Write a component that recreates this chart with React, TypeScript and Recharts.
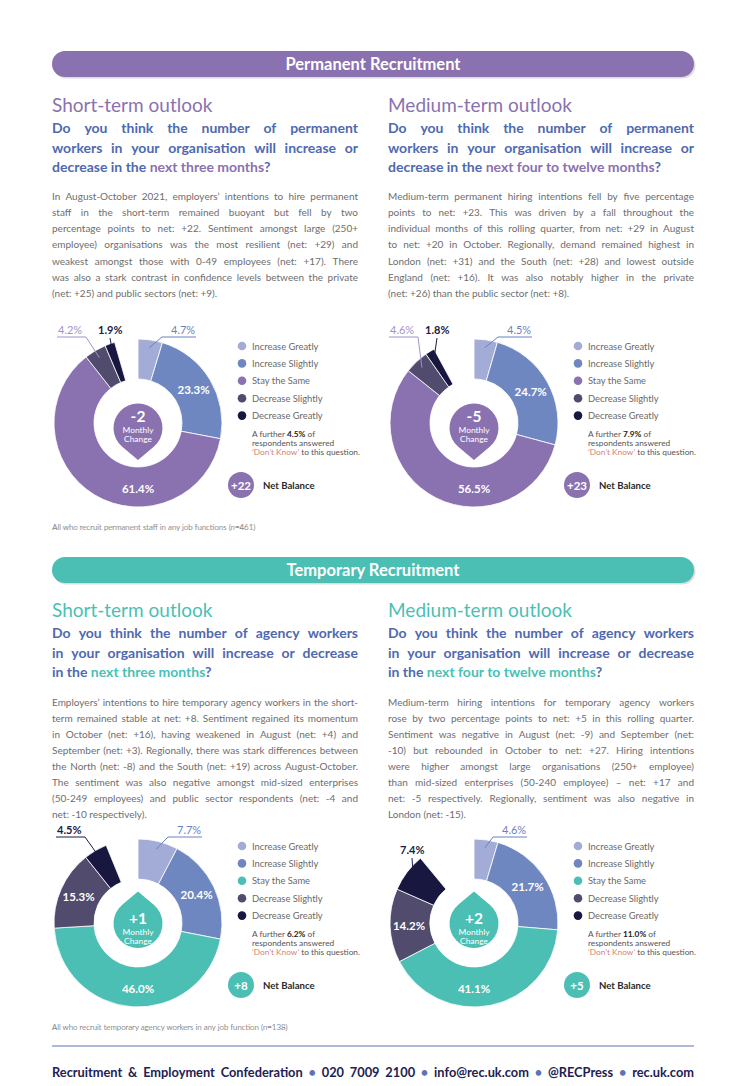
import React from "react";
import { PieChart, Pie, Cell } from "recharts";

// survey answer categories, in the order drawn clockwise from 12 o'clock
const categories = [
  "Increase Greatly",
  "Increase Slightly",
  "Stay the Same",
  "Decrease Slightly",
  "Decrease Greatly",
];

const permShort = [4.7, 23.3, 61.4, 4.2, 1.9];
const permMedium = [4.5, 24.7, 56.5, 4.6, 1.8];
const tempShort = [7.7, 20.4, 46.0, 15.3, 4.5];
const tempMedium = [4.6, 21.7, 41.1, 14.2, 7.4];

const dontKnow = [4.5, 7.9, 6.2, 11.0];
const monthlyChange = [-2, -5, 1, 2];
const netBalance = [22, 23, 8, 5];

const sampleNotes = [
  "All who recruit permanent staff in any job functions (n=461)",
  "All who recruit permanent staff in any job functions (n=461)",
  "All who recruit temporary agency workers in any job function (n=138)",
  "All who recruit temporary agency workers in any job function (n=138)",
];

const permShortBody = [
  "In August-October 2021, employers’ intentions to hire permanent",
  "staff in the short-term remained buoyant but fell by two",
  "percentage points to net: +22. Sentiment amongst large (250+",
  "employee) organisations was the most resilient (net: +29) and",
  "weakest amongst those with 0-49 employees (net: +17). There",
  "was also a stark contrast in confidence levels between the private",
  "(net: +25) and public sectors (net: +9).",
];
const permMediumBody = [
  "Medium-term permanent hiring intentions fell by five percentage",
  "points to net: +23. This was driven by a fall throughout the",
  "individual months of this rolling quarter, from net: +29 in August",
  "to net: +20 in October. Regionally, demand remained highest in",
  "London (net: +31) and the South (net: +28) and lowest outside",
  "England (net: +16). It was also notably higher in the private",
  "(net: +26) than the public sector (net: +8).",
];
const tempShortBody = [
  "Employers’ intentions to hire temporary agency workers in the short-",
  "term remained stable at net: +8. Sentiment regained its momentum",
  "in October (net: +16), having weakened in August (net: +4) and",
  "September (net: +3). Regionally, there was stark differences between",
  "the North (net: -8) and the South (net: +19) across August-October.",
  "The sentiment was also negative amongst mid-sized enterprises",
  "(50-249 employees) and public sector respondents (net: -4 and",
  "net: -10 respectively).",
];
const tempMediumBody = [
  "Medium-term hiring intentions for temporary agency workers",
  "rose by two percentage points to net: +5 in this rolling quarter.",
  "Sentiment was negative in August (net: -9) and September (net:",
  "-10) but rebounded in October to net: +27. Hiring intentions",
  "were higher amongst large organisations (250+ employee)",
  "than mid-sized enterprises (50-240 employee) – net: +17 and",
  "net: -5 respectively. Regionally, sentiment was also negative in",
  "London (net: -15).",
];

const PURPLE = "#8a71b0";
const TEAL = "#4bbfb4";
const QBLUE = "#4f69b0";
const BODY = "#6e6e6e";
const NAVY = "#1e2152";
const sliceColors = ["#a3acd6", "#6f87c1", PURPLE, "#514b6e", "#17173f"];
const calloutColors = ["#6a82c0", "#6a82c0", "#ffffff", "#a193c9", "#1b1b48"];

const RAD = Math.PI / 180;
const polar = (cx: number, cy: number, r: number, a: number) => [
  cx + r * Math.cos(-a * RAD),
  cy + r * Math.sin(-a * RAD),
];

let ctx: CanvasRenderingContext2D | null = null;
function textWidth(s: string, font: string) {
  if (!ctx) ctx = document.createElement("canvas").getContext("2d");
  if (!ctx) return s.length * 5;
  ctx.font = font;
  return ctx.measureText(s).width;
}

type Seg = { t: string; c?: string };

function Line({ x, y, width, segs, size, weight = 400, color, justify }: any) {
  if (!justify) {
    return (
      <text x={x} y={y} fontSize={size} fontWeight={weight} fontFamily="Lato" fill={color}>
        {segs.map((s: Seg, i: number) => (
          <tspan key={i} fill={s.c || color}>
            {s.t}
          </tspan>
        ))}
      </text>
    );
  }
  const tokens: Seg[] = [];
  segs.forEach((s: Seg) =>
    s.t.split(" ").forEach((w) => {
      if (w) tokens.push({ t: w, c: s.c });
    })
  );
  const font = `${weight} ${size}px Lato`;
  const widths = tokens.map((tk) => textWidth(tk.t, font));
  const total = widths.reduce((a, b) => a + b, 0);
  const gap = tokens.length > 1 ? (width - total) / (tokens.length - 1) : 0;
  let pos = x;
  const xs = widths.map((w) => {
    const p = pos;
    pos += w + gap;
    return p;
  });
  return (
    <text y={y} fontSize={size} fontWeight={weight} fontFamily="Lato" fill={color}>
      {tokens.map((tk, i) => (
        <tspan key={i} x={xs[i]} fill={tk.c || color}>
          {tk.t}
        </tspan>
      ))}
    </text>
  );
}

function Paragraph({ x, y0, step, lines, width }: any) {
  return (
    <g>
      {lines.map((l: string, i: number) => (
        <Line
          key={i}
          x={x}
          y={y0 + i * step}
          width={width}
          segs={[{ t: l }]}
          size={10}
          color={BODY}
          justify={i < lines.length - 1}
        />
      ))}
    </g>
  );
}

function Question({ x, y0, lines, hl }: any) {
  return (
    <g>
      {lines.map((segs: Seg[], i: number) => (
        <Line
          key={i}
          x={x}
          y={y0 + i * 19.6}
          width={306}
          segs={segs.map((s) => ({ t: s.t, c: s.c ? hl : undefined }))}
          size={14}
          weight={700}
          color={QBLUE}
          justify={i < 2}
        />
      ))}
    </g>
  );
}

function dropPath(cx: number, cy: number, dir: number) {
  const r = 24.5;
  const d = 32;
  const c = cy + (dir > 0 ? 5 : 0.5);
  const th = Math.acos(r / d);
  const tipY = c + dir * d;
  const px = r * Math.sin(th);
  const py = c + dir * r * Math.cos(th);
  const sweep = dir > 0 ? 0 : 1;
  return `M ${cx} ${tipY} L ${cx + px} ${py} A ${r} ${r} 0 1 ${sweep} ${cx - px} ${py} Z`;
}

const BOX = 110;

function Donut({ cx, cy, values, dk, change, net, stay, note, callouts }: any) {
  const colors = sliceColors.map((c, i) => (i === 2 ? stay : c));
  const data = [
    ...categories.map((name, i) => ({ name, value: values[i] })),
    { name: "Don’t Know", value: dk },
  ];

  const renderLabel = (p: any) => {
    const { cx: x0, cy: y0, midAngle, index, value } = p;
    if (index >= categories.length) return null;
    if (value >= 10) {
      const ang = index === 2 ? -90 : midAngle;
      const [x, y] = polar(x0, y0, 65, ang);
      return (
        <text
          x={x}
          y={y}
          textAnchor="middle"
          dominantBaseline="central"
          fill="#fff"
          fontWeight={700}
          fontSize={11.5}
          fontFamily="Lato"
        >
          {value.toFixed(1)}%
        </text>
      );
    }
    const c = callouts[index];
    if (!c) return null;
    const [ax, ay] = polar(x0, y0, 76, midAngle);
    const tx = x0 + c.x;
    const ty = y0 + c.y;
    const tw = 24;
    const col = calloutColors[index];
    const uy = ty + 3;
    let ul: number[] | null = null;
    let lx = tx + tw / 2;
    let ly = ty + 4;
    if (c.line === "left") {
      ul = [tx - 9, tx + tw + 1];
      lx = tx - 9;
      ly = uy;
    } else if (c.line === "right") {
      ul = [tx - 1, tx + tw + 4];
      lx = tx + tw + 4;
      ly = uy;
    }
    return (
      <g>
        <text
          x={tx}
          y={ty}
          fill={col}
          fontSize={11}
          fontWeight={index === 4 ? 700 : 400}
          fontFamily="Lato"
        >
          {value.toFixed(1)}%
        </text>
        {ul && <line x1={ul[0]} x2={ul[1]} y1={uy} y2={uy} stroke={col} strokeWidth={1} />}
        <line x1={lx} y1={ly} x2={ax} y2={ay} stroke={col} strokeWidth={1} />
      </g>
    );
  };

  const dir = change < 0 ? 1 : -1;
  const sign = (v: number) => (v > 0 ? `+${v}` : `${v}`);

  return (
    <>
      <div style={{ position: "absolute", left: cx - BOX, top: cy - BOX }}>
        <PieChart width={BOX * 2} height={BOX * 2} margin={{ top: 0, right: 0, bottom: 0, left: 0 }}>
          <Pie
            data={data}
            dataKey="value"
            nameKey="name"
            cx={BOX}
            cy={BOX}
            innerRadius={44}
            outerRadius={84}
            startAngle={90}
            endAngle={-270}
            isAnimationActive={false}
            label={renderLabel}
            labelLine={false}
          >
            {data.map((d, i) => (
              <Cell
                key={d.name}
                fill={i < 5 ? colors[i] : "none"}
                stroke={i < 5 ? "#fff" : "none"}
                strokeWidth={0.8}
              />
            ))}
          </Pie>
        </PieChart>
      </div>
      <svg
        width={360}
        height={240}
        style={{ position: "absolute", left: cx - BOX, top: cy - BOX, overflow: "visible" }}
      >
        <g transform={`translate(${BOX},${BOX})`} fontFamily="Lato">
          <path d={dropPath(0, 0, dir)} fill={stay} />
          <text x={0} y={dir > 0 ? -7 : -5} textAnchor="middle" dominantBaseline="central" fill="#fff" fontSize={15.5} fontWeight={700}>
            {sign(change)}
          </text>
          <text x={0} y={dir > 0 ? 7 : 8.5} textAnchor="middle" dominantBaseline="central" fill="#fff" fontSize={8.4}>
            Monthly
          </text>
          <text x={0} y={dir > 0 ? 16 : 17.5} textAnchor="middle" dominantBaseline="central" fill="#fff" fontSize={8.4}>
            Change
          </text>

          {categories.map((name, i) => (
            <g key={name}>
              <circle cx={104} cy={-77 + i * 17.4} r={4.3} fill={colors[i]} />
              <text x={114} y={-77 + i * 17.4} dominantBaseline="central" fontSize={9.4} fill="#6a6a6a">
                {name}
              </text>
            </g>
          ))}

          <text x={114} y={11} dominantBaseline="central" fontSize={8.3} fill="#555">
            A further <tspan fontWeight={700} fill="#222">{dk.toFixed(1)}%</tspan> of
          </text>
          <text x={114} y={20} dominantBaseline="central" fontSize={8.3} fill="#555">
            respondents answered
          </text>
          <text x={114} y={29.3} dominantBaseline="central" fontSize={8.3} fill="#555">
            <tspan fill="#d4846f">‘Don’t Know’</tspan> to this question.
          </text>

          <circle cx={103} cy={62} r={13} fill={stay} />
          <text x={103} y={62} textAnchor="middle" dominantBaseline="central" fill="#fff" fontSize={11.5} fontWeight={700}>
            {sign(net)}
          </text>
          <text x={125} y={62} dominantBaseline="central" fontSize={9.6} fontWeight={700} fill="#2a2a2a">
            Net Balance
          </text>

          <text x={52 - cx} y={104} dominantBaseline="central" fontSize={7.9} fontWeight={300} fill="#858585">
            {note}
          </text>
        </g>
      </svg>
    </>
  );
}

function Header({ y, color, label }: any) {
  return (
    <g>
      <rect x={53.5} y={y + 1.5} width={642} height={26} rx={13} fill="#dcdcdc" />
      <rect x={52} y={y} width={642} height={26} rx={13} fill={color} />
      <text x={373} y={y + 18.8} textAnchor="middle" fill="#fff" fontSize={16.5} fontWeight={700} fontFamily="Lato">
        {label}
      </text>
    </g>
  );
}

const charts = [
  {
    cx: 137.5,
    cy: 423,
    values: permShort,
    stay: PURPLE,
    callouts: {
      0: { x: 33, y: -89, line: "left" },
      3: { x: -80, y: -89, line: "right" },
      4: { x: -40, y: -89, line: "below" },
    },
  },
  {
    cx: 474,
    cy: 423,
    values: permMedium,
    stay: PURPLE,
    callouts: {
      0: { x: 33, y: -89, line: "left" },
      3: { x: -84, y: -89, line: "right" },
      4: { x: -49, y: -89, line: "below" },
    },
  },
  {
    cx: 138,
    cy: 923,
    values: tempShort,
    stay: TEAL,
    callouts: {
      0: { x: 39, y: -89, line: "left" },
      4: { x: -81, y: -89, line: "right" },
    },
  },
  {
    cx: 474,
    cy: 923,
    values: tempMedium,
    stay: TEAL,
    callouts: {
      0: { x: 28, y: -89, line: "left" },
      4: { x: -74, y: -69, line: "below" },
    },
  },
];

export default function App() {
  const footer: Seg[] = [
    { t: "Recruitment & Employment Confederation" },
    { t: "•", c: "#5d73b8" },
    { t: "020 7009 2100" },
    { t: "•", c: "#5d73b8" },
    { t: "info@rec.uk.com" },
    { t: "•", c: "#5d73b8" },
    { t: "@RECPress" },
    { t: "•", c: "#5d73b8" },
    { t: "rec.uk.com" },
  ];

  return (
    <div
      style={{
        position: "absolute",
        left: 0,
        top: 0,
        width: 747,
        height: 1086,
        background: "#fff",
        fontFamily: "Lato",
        overflow: "hidden",
      }}
    >
      <svg width={747} height={1086} style={{ position: "absolute", left: 0, top: 0 }}>
        <Header y={51} color={PURPLE} label="Permanent Recruitment" />
        <text x={52} y={112} fontSize={19} fill={PURPLE} fontFamily="Lato">
          Short-term outlook
        </text>
        <text x={388} y={112} fontSize={19} fill={PURPLE} fontFamily="Lato">
          Medium-term outlook
        </text>
        <Question
          x={52}
          y0={133}
          hl={PURPLE}
          lines={[
            [{ t: "Do you think the number of permanent" }],
            [{ t: "workers in your organisation will increase or" }],
            [{ t: "decrease in the " }, { t: "next three months", c: true }, { t: "?" }],
          ]}
        />
        <Question
          x={388}
          y0={133}
          hl={PURPLE}
          lines={[
            [{ t: "Do you think the number of permanent" }],
            [{ t: "workers in your organisation will increase or" }],
            [{ t: "decrease in the " }, { t: "next four to twelve months", c: true }, { t: "?" }],
          ]}
        />
        <Paragraph x={52} y0={199.5} step={16.3} width={306} lines={permShortBody} />
        <Paragraph x={388} y0={199.5} step={16.3} width={306} lines={permMediumBody} />

        <Header y={557} color={TEAL} label="Temporary Recruitment" />
        <text x={52} y={617} fontSize={19} fill={TEAL} fontFamily="Lato">
          Short-term outlook
        </text>
        <text x={388} y={617} fontSize={19} fill={TEAL} fontFamily="Lato">
          Medium-term outlook
        </text>
        <Question
          x={52}
          y0={638}
          hl={TEAL}
          lines={[
            [{ t: "Do you think the number of agency workers" }],
            [{ t: "in your organisation will increase or decrease" }],
            [{ t: "in the " }, { t: "next three months", c: true }, { t: "?" }],
          ]}
        />
        <Question
          x={388}
          y0={638}
          hl={TEAL}
          lines={[
            [{ t: "Do you think the number of agency workers" }],
            [{ t: "in your organisation will increase or decrease" }],
            [{ t: "in the " }, { t: "next four to twelve months", c: true }, { t: "?" }],
          ]}
        />
        <Paragraph x={52} y0={705.5} step={16.1} width={306} lines={tempShortBody} />
        <Paragraph x={388} y0={705.5} step={16.1} width={306} lines={tempMediumBody} />

        <line x1={52} x2={694} y1={1046} y2={1046} stroke="#5d73b8" strokeWidth={1.2} />
        <Line x={52} y={1076.5} width={642} segs={footer} size={12.8} weight={700} color={NAVY} justify />
      </svg>

      {charts.map((c, i) => (
        <Donut
          key={i}
          cx={c.cx}
          cy={c.cy}
          values={c.values}
          stay={c.stay}
          callouts={c.callouts}
          dk={dontKnow[i]}
          change={monthlyChange[i]}
          net={netBalance[i]}
          note={sampleNotes[i]}
        />
      ))}
    </div>
  );
}
